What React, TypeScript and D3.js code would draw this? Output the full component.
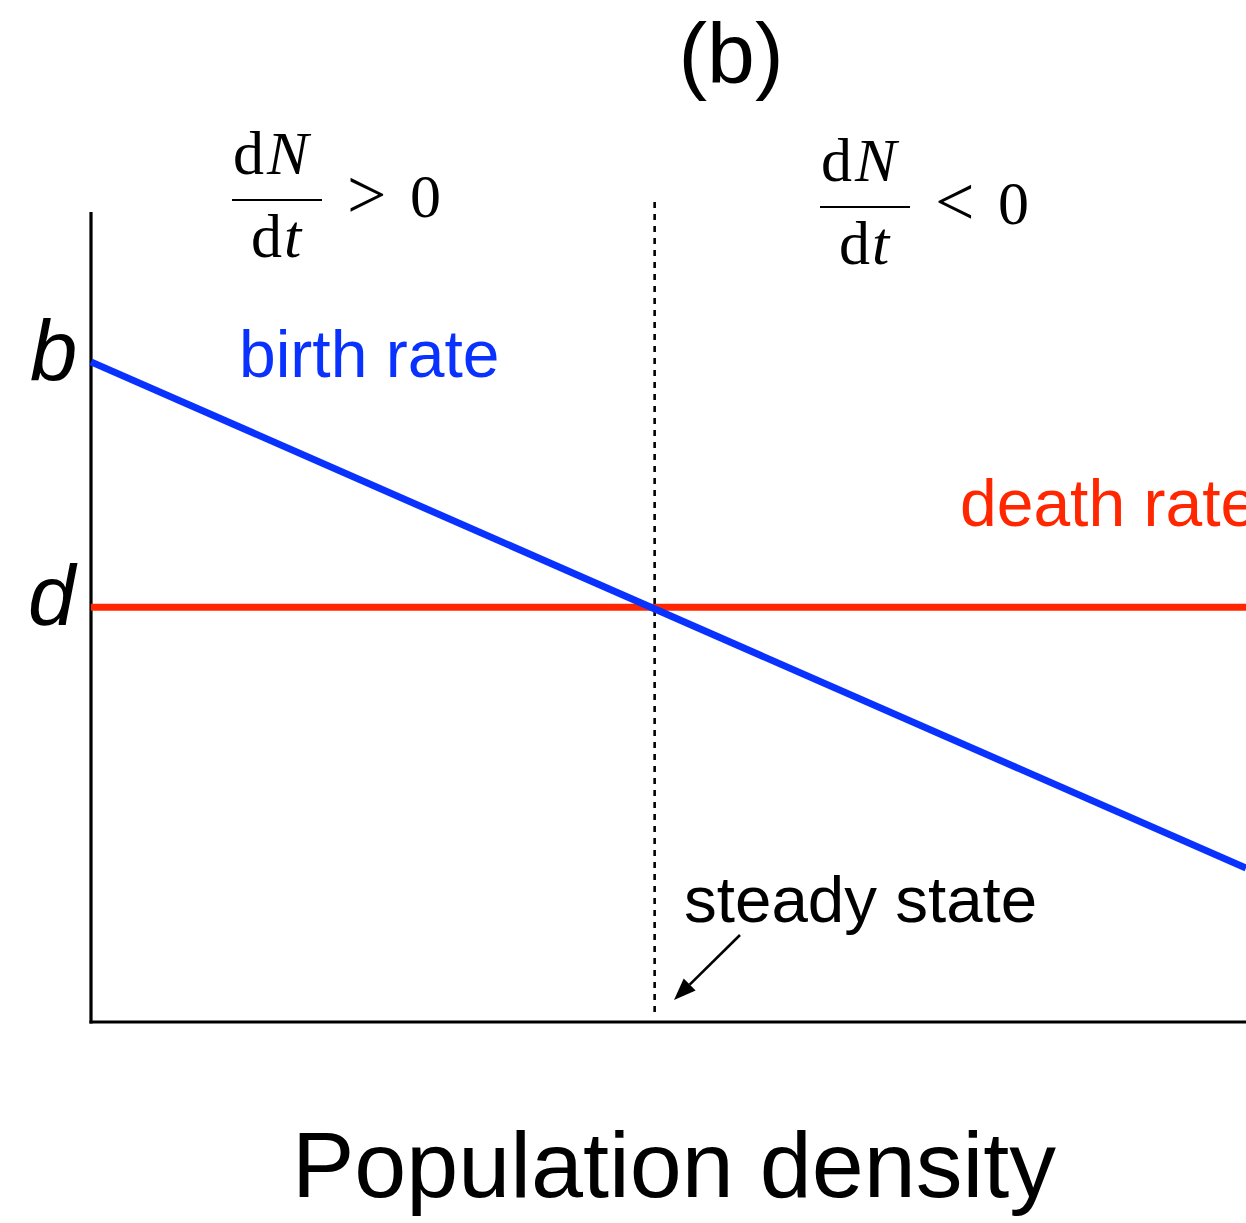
import React, { useEffect } from "react";
import * as d3 from "d3";

// Rates as functions of population density (arbitrary units)
const densities = [0, 10];
const birthRate = [8.15, 1.9];
const deathRate = [5.12, 5.12];
const steadyStateDensity = 4.88;
const rateLabels = ["b", "d"];

const W = 1246;
const H = 1223;
const SANS = "'Liberation Sans', Arial, Helvetica, sans-serif";
const SERIF = "'Liberation Serif', 'Times New Roman', serif";
const BLUE = "#0a32ff";
const RED = "#ff2600";

const x = d3.scaleLinear().domain([0, 10]).range([91, 1246]);
const y = d3.scaleLinear().domain([0, 10]).range([1022, 212]);

type Pt = { n: number; r: number };
const birthPts: Pt[] = densities.map((n, i) => ({ n, r: birthRate[i] }));
const deathPts: Pt[] = densities.map((n, i) => ({ n, r: deathRate[i] }));
const line = d3
  .line<Pt>()
  .x((p) => x(p.n))
  .y((p) => y(p.r));

function Derivative({ barX, barY, rel }: { barX: number; barY: number; rel: string }) {
  return (
    <g fontFamily={SERIF} fontSize={62} fill="#000">
      <text x={barX + 1} y={barY - 26} letterSpacing={3}>
        <tspan>d</tspan>
        <tspan fontStyle="italic">N</tspan>
      </text>
      <line x1={barX} x2={barX + 90} y1={barY} y2={barY} stroke="#000" strokeWidth={2.2} />
      <text x={barX + 19} y={barY + 57} letterSpacing={2}>
        <tspan>d</tspan>
        <tspan fontStyle="italic">t</tspan>
      </text>
      <text x={barX + 115} y={barY + 18} fontSize={70}>
        {rel}
      </text>
      <text x={barX + 178} y={barY + 17}>0</text>
    </g>
  );
}

export default function App() {
  useEffect(() => {
    document.body.style.margin = "0";
  }, []);

  const sx = x(steadyStateDensity);
  const tip = { x: 674, y: 1000 };
  const tail = { x: 740, y: 935 };
  const ang = Math.atan2(tip.y - tail.y, tip.x - tail.x);
  const headLen = 22;
  const headHalf = 8.5;
  const bx = tip.x - headLen * Math.cos(ang);
  const by = tip.y - headLen * Math.sin(ang);
  const head = [
    [tip.x, tip.y],
    [bx + headHalf * Math.sin(ang), by - headHalf * Math.cos(ang)],
    [bx - headHalf * Math.sin(ang), by + headHalf * Math.cos(ang)],
  ];

  return (
    <svg width={W} height={H} style={{ display: "block", background: "#fff" }}>
      <rect width={W} height={H} fill="#fff" />
      {/* panel letter */}
      <text x={731} y={83} textAnchor="middle" fontFamily={SANS} fontSize={86} fill="#000">
        (b)
      </text>

      {/* sign of dN/dt on either side of the steady state */}
      <Derivative barX={232} barY={200} rel=">" />
      <Derivative barX={820} barY={207} rel="<" />

      {/* axes */}
      <line x1={x(0)} x2={x(0)} y1={y(10)} y2={y(0) + 1.5} stroke="#000" strokeWidth={3.2} />
      <line x1={x(0) - 1.5} x2={W} y1={y(0)} y2={y(0)} stroke="#000" strokeWidth={3.2} />

      {/* steady state marker */}
      <line
        x1={sx}
        x2={sx}
        y1={202}
        y2={1015}
        stroke="#000"
        strokeWidth={2.6}
        strokeDasharray="6,6"
      />

      {/* rate lines */}
      <path d={line(deathPts) ?? ""} fill="none" stroke={RED} strokeWidth={7} />
      <path d={line(birthPts) ?? ""} fill="none" stroke={BLUE} strokeWidth={7} />

      {/* rate symbols on the y axis */}
      <text x={30} y={380} fontFamily={SANS} fontStyle="italic" fontSize={85} fill="#000">
        {rateLabels[0]}
      </text>
      <text x={28} y={625} fontFamily={SANS} fontStyle="italic" fontSize={85} fill="#000">
        {rateLabels[1]}
      </text>

      {/* line labels */}
      <text x={239} y={377} fontFamily={SANS} fontSize={66} fill={BLUE}>
        birth rate
      </text>
      <text x={960} y={526} fontFamily={SANS} fontSize={66} fill={RED}>
        death rate
      </text>

      {/* steady state annotation */}
      <text x={684} y={922} fontFamily={SANS} fontSize={65.5} fill="#000">
        steady state
      </text>
      <line x1={tail.x} y1={tail.y} x2={bx} y2={by} stroke="#000" strokeWidth={2.6} />
      <polygon points={head.map((p) => p.join(",")).join(" ")} fill="#000" />

      {/* x axis title */}
      <text x={674} y={1197} textAnchor="middle" fontFamily={SANS} fontSize={93.5} fill="#000">
        Population density
      </text>
    </svg>
  );
}
